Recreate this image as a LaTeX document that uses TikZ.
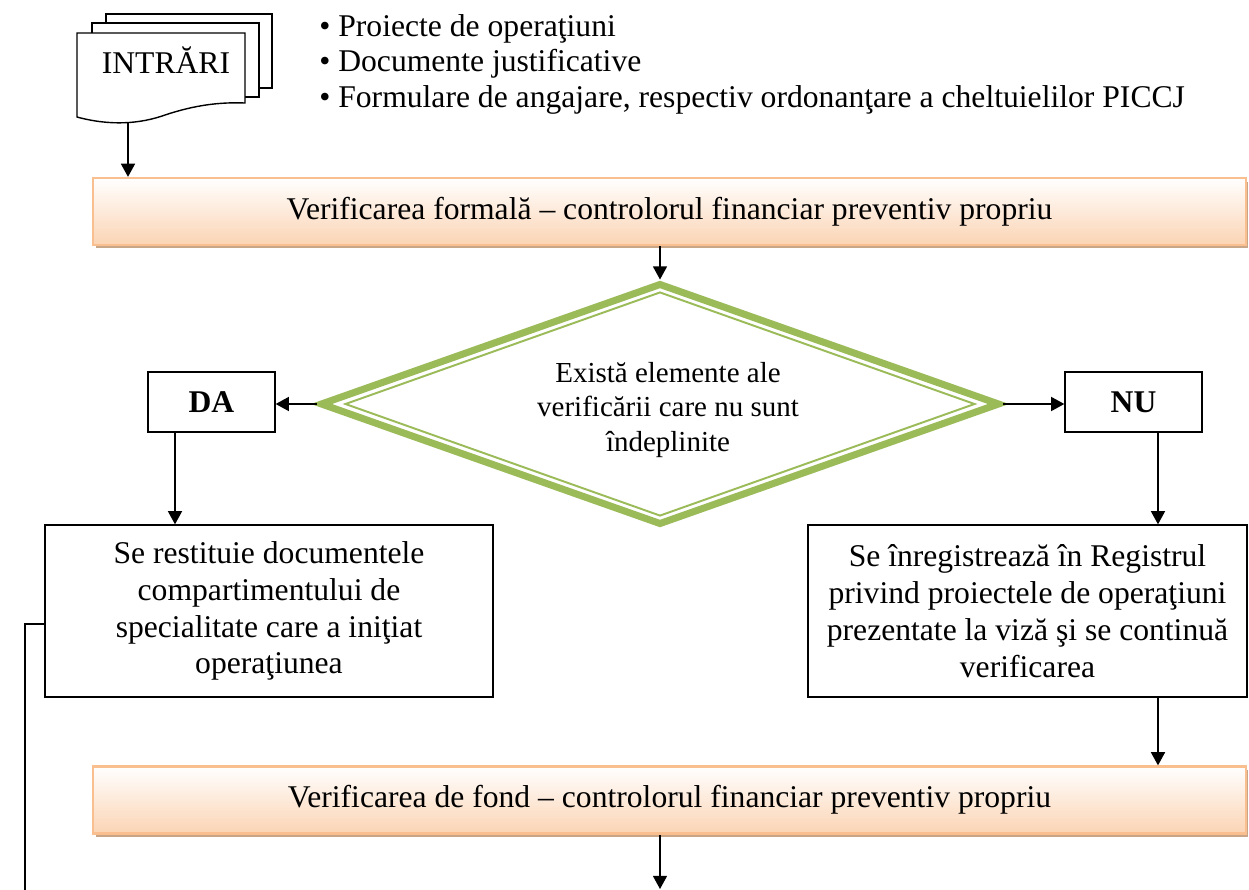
\documentclass[tikz,border=0pt]{standalone}
\usepackage{fontspec}
\setmainfont{Liberation Serif}
\usetikzlibrary{arrows.meta}
\usetikzlibrary{shapes.geometric}
\usetikzlibrary{shadows}

\definecolor{peachline}{RGB}{250,191,143}
\definecolor{peachfill}{RGB}{251,212,180}
\definecolor{shadowbrown}{RGB}{200,165,135}
\definecolor{olivegreen}{RGB}{155,187,89}

\begin{document}
\begin{tikzpicture}[
    x=0.02cm, y=-0.02cm,
    font=\fontsize{18}{21}\selectfont,
    flow/.style={-{Triangle[length=7.5pt,width=8pt]}, line width=0.8pt},
    sheet/.style={draw, fill=white, line width=0.8pt},
    plainbox/.style={draw, line width=0.8pt, align=center, inner sep=2pt},
    answer/.style={plainbox, minimum height=1.2cm, font=\fontsize{18}{21}\selectfont\bfseries},
    stagebox/.style={draw=peachline, line width=1.3pt, top color=white, bottom color=peachfill,
        minimum width=23.06cm, minimum height=1.34cm,
        drop shadow={shadow xshift=0.05cm, shadow yshift=-0.07cm, fill=shadowbrown, opacity=1}},
    decision/.style={diamond, draw=olivegreen, aspect=2.81, inner sep=0pt}
    ]

    \useasboundingbox (0,0) rectangle (1249,890);

    % input documents
    \draw[sheet] (106,14) rectangle (272,88);
    \draw[sheet] (92,23) rectangle (259,97);
    \draw[sheet] (77,33) -- (245,33) -- (245,103)
        .. controls (220,102) and (195,105) .. (165,115)
        .. controls (140,124) and (110,126) .. (77,117) -- cycle;
    \node (intrari) at (166,60) {INTRĂRI};
    \coordinate (docout) at (128,123);
    \node[anchor=west, align=left, inner sep=0pt, font=\fontsize{18}{20.2}\selectfont] (inputs) at (319,64)
        {\textbullet{} Proiecte de operaţiuni\\
         \textbullet{} Documente justificative\\
         \textbullet{} Formulare de angajare, respectiv ordonanţare a cheltuielilor PICCJ};

    % stages
    \node[stagebox] (formal) at (669.5,211.5) {Verificarea formală -- controlorul financiar preventiv propriu};
    \node[decision, line width=4pt, minimum width=13.6cm, minimum height=4.84cm] (cond) at (660,404) {};
    \node[decision, line width=1.1pt, minimum width=12.6cm, minimum height=4.48cm] (condin) at (cond) {};
    \node[align=center, font=\fontsize{16.5}{19.5}\selectfont] (condtext) at (668,410)
        {Există elemente ale\\ verificării care nu sunt\\ îndeplinite};

    \node[answer, minimum width=2.54cm] (yes) at (211.5,402) {DA};
    \node[answer, minimum width=2.74cm] (no) at (1133.5,402) {NU};

    \node[plainbox, minimum width=8.96cm, minimum height=3.44cm] (restit) at (269,611)
        {Se restituie documentele\\ compartimentului de\\ specialitate care a iniţiat\\ operaţiunea};
    \node[plainbox, minimum width=8.78cm, minimum height=3.44cm] (regist) at (1027.5,611)
        {Se înregistrează în Registrul\\ privind proiectele de operaţiuni\\ prezentate la viză şi se continuă\\ verificarea};

    \node[stagebox] (fond) at (669.5,800) {Verificarea de fond -- controlorul financiar preventiv propriu};

    % connectors
    \coordinate (dadrop) at (175,0);
    \coordinate (nudrop) at (1158,0);
    \coordinate (nextstep) at (660,889);
    \coordinate (retour) at (25,624);
    \coordinate (retend) at (25,890);

    \draw[flow] (docout) -- (docout |- formal.north);
    \draw[flow] (cond.north |- formal.south) -- (cond.north);
    \draw[flow] (cond.west) -- (cond.west -| yes.east);
    \draw[flow] (cond.east) -- (cond.east -| no.west);
    \draw[flow] (dadrop |- yes.south) -- (dadrop |- restit.north);
    \draw[flow] (nudrop |- no.south) -- (nudrop |- regist.north);
    \draw[flow] (nudrop |- regist.south) -- (nudrop |- fond.north);
    \draw[flow] (nextstep |- fond.south) -- (nextstep);
    \draw[line width=0.8pt] (retour -| restit.west) -- (retour) -- (retend);
\end{tikzpicture}
\end{document}
